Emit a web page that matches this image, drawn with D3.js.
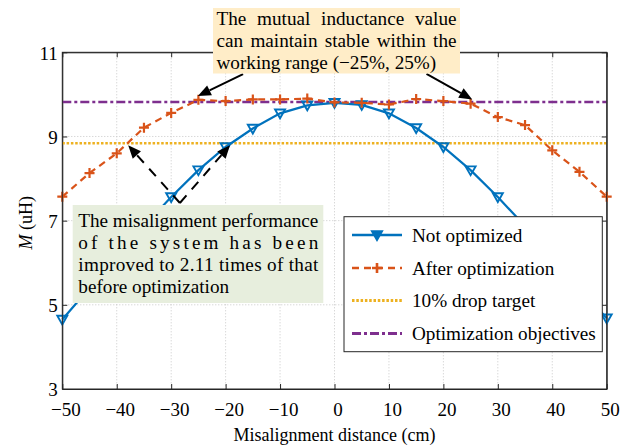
<!DOCTYPE html>
<html><head><meta charset="utf-8">
<script src="https://cdn.jsdelivr.net/npm/d3@7"></script>
<style>
body{margin:0;background:#fff}
svg{display:block}
text{font-family:"Liberation Serif","Times New Roman",serif;fill:#000}
</style>
</head><body>
<svg id="c" width="630" height="447"></svg>
<script>
// ---------- data ----------
const distances = [-50,-45,-40,-35,-30,-25,-20,-15,-10,-5,0,5,10,15,20,25,30,35,40,45,50];
const notOptimized = [4.65,5.40,6.15,6.87,7.56,8.20,8.75,9.19,9.55,9.74,9.80,9.75,9.55,9.20,8.75,8.20,7.56,6.87,6.15,5.40,4.68];
const afterOptimization = [7.57,8.13,8.60,9.21,9.56,9.87,9.84,9.88,9.88,9.90,9.81,9.80,9.76,9.89,9.84,9.78,9.46,9.27,8.67,8.16,7.57];
const dropTarget = 8.84;
const objective = 9.82;
const xTicks = [-50,-40,-30,-20,-10,0,10,20,30,40,50];
const yTicks = [3,5,7,9,11];
const seriesNames = ["Not optimized","After optimization","10% drop target","Optimization objectives"];
const colors = ["#0072BD","#D95319","#EDB120","#7E2F8E"];
const topNote = ["The mutual inductance value","can maintain stable within the","working range (\u221225%, 25%)"];
const sideNote = ["The misalignment performance","of the system has been","improved to 2.11 times of that","before optimization"];

// ---------- layout ----------
const L = 62.3, R = 606.7, T = 52.3, B = 389;
const svg = d3.select("#c");
const x = d3.scaleLinear().domain([-50,50]).range([L,R]);
const y = d3.scaleLinear().domain([3,11]).range([B,T]);
const fmt = d => (d < 0 ? "\u2212" + Math.abs(d) : "" + d);
const FS = 19.2;

// grid
const g = svg.append("g");
g.selectAll(".gx").data(xTicks.slice(1,-1)).join("line")
  .attr("x1", d=>x(d)).attr("x2", d=>x(d)).attr("y1", T).attr("y2", B)
  .attr("stroke","#c8c8c8").attr("stroke-width",1).attr("stroke-dasharray","1,2");
g.selectAll(".gy").data(yTicks.slice(1,-1)).join("line")
  .attr("y1", d=>y(d)).attr("y2", d=>y(d)).attr("x1", L).attr("x2", R)
  .attr("stroke","#c8c8c8").attr("stroke-width",1).attr("stroke-dasharray","1,2");

// axes
const ax = svg.append("g").attr("transform",`translate(0,${B})`)
  .call(d3.axisBottom(x).tickValues(xTicks).tickFormat(fmt).tickSizeInner(-5).tickSizeOuter(0).tickPadding(14));
const ay = svg.append("g").attr("transform",`translate(${L},0)`)
  .call(d3.axisLeft(y).tickValues(yTicks).tickFormat(fmt).tickSizeInner(-5).tickSizeOuter(0).tickPadding(4.5));
const axT = svg.append("g").attr("transform",`translate(0,${T})`)
  .call(d3.axisTop(x).tickValues(xTicks).tickFormat("").tickSizeInner(-5).tickSizeOuter(0));
const ayR = svg.append("g").attr("transform",`translate(${R},0)`)
  .call(d3.axisRight(y).tickValues(yTicks).tickFormat("").tickSizeInner(-5).tickSizeOuter(0));
[ax,ay,axT,ayR].forEach(a=>{
  a.select(".domain").attr("stroke","#262626");
  a.selectAll(".tick line").attr("stroke","#262626");
  a.selectAll("text").attr("font-family",'"Liberation Serif",serif').attr("font-size",19).attr("fill","#262626");
});
ax.selectAll("text").attr("dx",3);
ay.selectAll("text").attr("dy","0.36em");

// axis labels
svg.append("text").attr("x",(L+R)/2).attr("y",441).attr("text-anchor","middle")
  .attr("font-size",18).text("Misalignment distance (cm)");
const yl = svg.append("text").attr("transform",`translate(32,${(T+B)/2+2}) rotate(-90)`)
  .attr("text-anchor","middle").attr("font-size",18);
yl.append("tspan").attr("font-style","italic").text("M");
yl.append("tspan").text(" (uH)");

// reference lines
const plot = svg.append("g");
plot.append("line").attr("x1",L).attr("x2",R).attr("y1",y(dropTarget)).attr("y2",y(dropTarget))
  .attr("stroke",colors[2]).attr("stroke-width",2.5).attr("stroke-dasharray","2.5,1.8");
plot.append("line").attr("x1",L).attr("x2",R).attr("y1",y(objective)).attr("y2",y(objective))
  .attr("stroke",colors[3]).attr("stroke-width",2.5).attr("stroke-dasharray","9,3,3,3");

// series
const line = d3.line().x((d,i)=>x(distances[i])).y(d=>y(d));
plot.append("path").datum(notOptimized).attr("d",line).attr("fill","none")
  .attr("stroke",colors[0]).attr("stroke-width",2.2);
const tri = "M-5,-3.8L5,-3.8L0,5Z";
plot.selectAll(".tri").data(notOptimized).join("path")
  .attr("transform",(d,i)=>`translate(${x(distances[i])},${y(d)})`)
  .attr("d",tri).attr("fill","none").attr("stroke",colors[0]).attr("stroke-width",1.9);
plot.append("path").datum(afterOptimization).attr("d",line).attr("fill","none")
  .attr("stroke",colors[1]).attr("stroke-width",2.2).attr("stroke-dasharray","7,5");
const plus = "M-5,0L5,0M0,-5L0,5";
plot.selectAll(".pl").data(afterOptimization).join("path")
  .attr("transform",(d,i)=>`translate(${x(distances[i])},${y(d)})`)
  .attr("d",plus).attr("fill","none").attr("stroke",colors[1]).attr("stroke-width",2.2);

// plot box
svg.append("rect").attr("x",L).attr("y",T).attr("width",R-L).attr("height",B-T)
  .attr("fill","none").attr("stroke","#262626").attr("stroke-width",1);

// ---------- arrows (data coordinates) ----------
function arrow(x0,y0,x1,y1,dash){
  const px0=x(x0),py0=y(y0),px1=x(x1),py1=y(y1);
  const ang=Math.atan2(py1-py0,px1-px0), len=13, wid=5.5;
  const bx=px1-len*Math.cos(ang), by=py1-len*Math.sin(ang);
  svg.append("line").attr("x1",px0).attr("y1",py0).attr("x2",bx).attr("y2",by)
    .attr("stroke","#000").attr("stroke-width",2).attr("stroke-dasharray",dash||null);
  const nx=-Math.sin(ang), ny=Math.cos(ang);
  svg.append("path").attr("d",`M${px1},${py1}L${bx+nx*wid},${by+ny*wid}L${bx-nx*wid},${by-ny*wid}Z`)
    .attr("fill","#000");
}
arrow(-16.8,10.48,-25.1,9.96);
arrow(16.9,10.49,25.3,9.88);
arrow(-28.4,7.42,-37.9,8.79,"10,8");
arrow(-28.4,7.42,-19.2,8.79,"10,8");

// ---------- annotation boxes ----------
function justify(gp, words, x0, width, yb, fs){
  const els = words.map(w=>gp.append("text").attr("font-size",fs).attr("y",yb).text(w));
  const ws = els.map(e=>e.node().getComputedTextLength());
  const gap = (width - d3.sum(ws))/(words.length-1);
  let cx = x0;
  els.forEach((e,i)=>{ e.attr("x",cx); cx += ws[i]+gap; });
}
const tb = svg.append("g");
tb.append("rect").attr("x",213).attr("y",8).attr("width",247).attr("height",65.5).attr("fill","#FFEDC8");
const tW = 240, tX = 216.5;
justify(tb, topNote[0].split(" "), tX, tW, 24.5, FS);
justify(tb, topNote[1].split(" "), tX, tW, 46.7, FS);
tb.append("text").attr("x",tX).attr("y",68.8).attr("font-size",FS).text(topNote[2]);

const sb = svg.append("g");
sb.append("rect").attr("x",72.7).attr("y",205).attr("width",250.6).attr("height",98).attr("fill","#E7EEDD");
const sX = 78.3, sW = 240;
sideNote.forEach((t,i)=>{
  const el = sb.append("text").attr("x",sX).attr("y",226.5+i*22.2).attr("font-size",FS).text(t);
  if(i<3){ el.attr("textLength",sW).attr("lengthAdjust","spacing"); }
});

// ---------- legend ----------
const lg = svg.append("g");
lg.append("rect").attr("x",344).attr("y",216.7).attr("width",258.3).attr("height",135)
  .attr("fill","#fff").attr("stroke","#262626").attr("stroke-width",1);
const ly = [235,268,300.5,333.5];
const lx0 = 352, lx1 = 402, ltx = 412;
seriesNames.forEach((n,i)=>{
  const ln = lg.append("line").attr("x1",lx0).attr("x2",lx1).attr("y1",ly[i]).attr("y2",ly[i])
    .attr("stroke",colors[i]);
  if(i===0) ln.attr("stroke-width",2.6);
  if(i===1) ln.attr("stroke-width",2.6).attr("stroke-dasharray","7,5");
  if(i===2) ln.attr("stroke-width",2.8).attr("stroke-dasharray","2.5,1.8");
  if(i===3) ln.attr("stroke-width",2.8).attr("stroke-dasharray","9,3,3,3");
  lg.append("text").attr("x",ltx).attr("y",ly[i]+6.5).attr("font-size",FS).text(n);
});
lg.append("path").attr("transform",`translate(${(lx0+lx1)/2},${ly[0]})`).attr("d",tri)
  .attr("fill",colors[0]).attr("stroke",colors[0]).attr("stroke-width",2);
lg.append("path").attr("transform",`translate(${(lx0+lx1)/2},${ly[1]})`).attr("d",plus)
  .attr("fill","none").attr("stroke",colors[1]).attr("stroke-width",2.6);
</script>
</body></html>
